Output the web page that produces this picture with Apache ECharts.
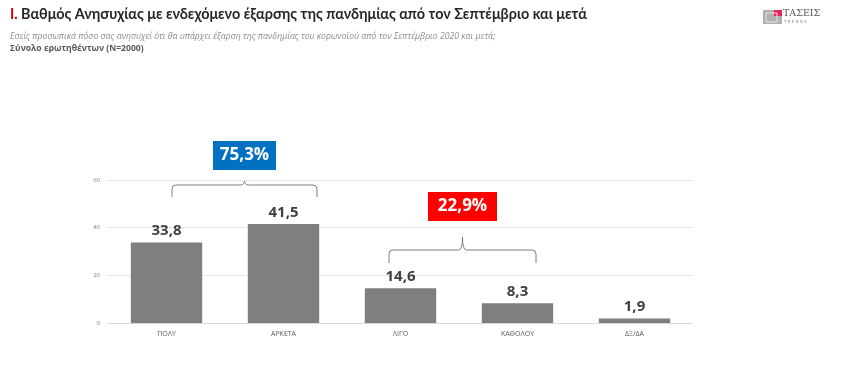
<!DOCTYPE html>
<html><head><meta charset="utf-8">
<script src="https://cdn.jsdelivr.net/npm/echarts@6/dist/echarts.min.js"></script>
<style>html,body{margin:0;padding:0;background:#fff}#c{width:854px;height:383px}</style>
</head><body><div id="c"></div>
<script>
const categories = ['ΠΟΛΥ', 'ΑΡΚΕΤΑ', 'ΛΙΓΟ', 'ΚΑΘΟΛΟΥ', 'ΔΞ/ΔΑ'];
const values = [33.8, 41.5, 14.6, 8.3, 1.9];
const yTicks = [0, 20, 40, 60];
const groupLabels = ['75,3%', '22,9%'];

const chart = echarts.init(document.getElementById('c'));
const F = '"Open Sans", "Noto Sans", sans-serif';

function brace(x1, x2, yTip, yMid, yEnd, color) {
  const cx = (x1 + x2) / 2, r = 4;
  const st = { stroke: color, lineWidth: 1, fill: null };
  const L = (a, b, c, d) => ({ type: 'line', shape: { x1: a, y1: b, x2: c, y2: d }, style: st });
  const B = (a, b, c, d, e, f) => ({ type: 'bezierCurve', shape: { x1: a, y1: b, cpx1: c, cpy1: d, x2: e, y2: f }, style: st });
  return {
    type: 'group',
    children: [
      L(x1, yEnd, x1, yMid + r),
      B(x1, yMid + r, x1, yMid, x1 + r, yMid),
      L(x1 + r, yMid, cx - r, yMid),
      B(cx - r, yMid, cx, yMid, cx, yTip),
      B(cx, yTip, cx, yMid, cx + r, yMid),
      L(cx + r, yMid, x2 - r, yMid),
      B(x2 - r, yMid, x2, yMid, x2, yMid + r),
      L(x2, yMid + r, x2, yEnd)
    ]
  };
}

function txt(x, y, text, fill, font, align, va) {
  return { type: 'text', x: x, y: y, style: { text: text, fill: fill, font: font, align: align || 'left', verticalAlign: va || 'top' } };
}

chart.setOption({
  animation: false,
  grid: { left: 108, right: 161, top: 180, bottom: 60 },
  xAxis: {
    type: 'category',
    data: categories,
    axisLine: { lineStyle: { color: '#d9d9d9' } },
    axisTick: { show: false },
    axisLabel: { color: '#595959', fontSize: 7, fontFamily: F, margin: 7 }
  },
  yAxis: {
    type: 'value', min: yTicks[0], max: yTicks[yTicks.length - 1], interval: 20,
    axisLine: { show: false }, axisTick: { show: false },
    axisLabel: { color: '#7f7f7f', fontSize: 6, fontFamily: F, margin: 8 },
    splitLine: { lineStyle: { color: '#e3e3e3' } }
  },
  series: [{
    type: 'bar', data: values, barWidth: '61%',
    itemStyle: { color: '#7f7f7f' },
    label: {
      show: true, position: 'top', distance: 4,
      color: '#404040', fontSize: 15, fontWeight: 'bold', fontFamily: F,
      formatter: p => String(p.value).replace('.', ',')
    }
  }],
  graphic: [
    txt(10, 7, 'I.', '#e00000', 'bold 14.4px Lato, ' + F),
    txt(21, 7, 'Βαθμός Ανησυχίας με ενδεχόμενο έξαρσης της πανδημίας από τον Σεπτέμβριο και μετά', '#262626', 'bold 14.4px Lato, ' + F),
    txt(10, 32, 'Εσείς προσωπικά πόσο σας ανησυχεί ότι θα υπάρχει έξαρση της πανδημίας του κορωνοϊού από τον Σεπτέμβριο 2020 και μετά;', '#8c8c8c', 'italic 8.7px ' + F),
    txt(10, 44, 'Σύνολο ερωτηθέντων (N=2000)', '#595959', 'bold 8.6px ' + F),
    // logo
    { type: 'rect', shape: { x: 763, y: 10, width: 19, height: 14 }, style: { fill: '#b0b0b0' } },
    { type: 'rect', shape: { x: 774, y: 10, width: 8, height: 6 }, style: { fill: '#e8245a' } },
    { type: 'rect', shape: { x: 766, y: 13, width: 11, height: 9 }, style: { fill: null, stroke: '#e6e6e6', lineWidth: 1 } },
    txt(783, 9, 'ΤΑΣΕΙΣ', '#555', '9.5px "DejaVu Serif", serif'),
    txt(784, 20, 'T R E N D S', '#888', '4px "DejaVu Sans", sans-serif'),
    // annotations
    brace(172, 317, 180, 185, 197, '#7f7f7f'),
    { type: 'rect', shape: { x: 213, y: 141, width: 63, height: 29 }, style: { fill: '#0070c0' } },
    txt(244.5, 155.5, groupLabels[0], '#fff', 'bold 17px ' + F, 'center', 'middle'),
    brace(389, 536, 237, 250, 263, '#7f7f7f'),
    { type: 'rect', shape: { x: 428, y: 192, width: 69, height: 29 }, style: { fill: '#ff0000' } },
    txt(462.5, 206.5, groupLabels[1], '#fff', 'bold 17px ' + F, 'center', 'middle')
  ]
});
</script></body></html>
